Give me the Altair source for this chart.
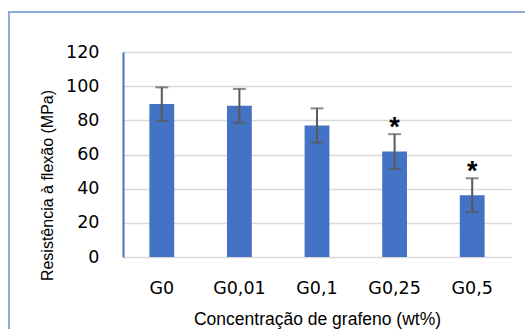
import altair as alt
import pandas as pd

# Flexural strength by graphene concentration (mean ± standard deviation)
groups = ["G0", "G0,01", "G0,1", "G0,25", "G0,5"]
strength = [89.5, 88.5, 77.0, 61.7, 36.2]
std_dev = [9.8, 9.9, 10.0, 10.2, 9.9]
significance = ["", "", "", "*", "*"]
y_ticks = [0, 20, 40, 60, 80, 100, 120]

df = pd.DataFrame({
    "grupo": groups,
    "media": strength,
    "dp": std_dev,
    "sig": significance,
})
df["inf"] = df["media"] - df["dp"]
df["sup"] = df["media"] + df["dp"]

BAR = "#4472C4"
ERR = "#595959"

x_axis = alt.Axis(
    title="Concentração de grafeno (wt%)",
    labelAngle=0,
    labelPadding=22,
    labelBaseline="top",
    titleY=67,
    titleBaseline="alphabetic",
)
x_scale = alt.Scale(paddingInner=0.68, paddingOuter=0.34)
y_axis = alt.Axis(
    title="Resistência à flexão (MPa)",
    values=y_ticks,
    labelOverlap=False,
    titleX=-71,
    titleY=133,
    titleBaseline="alphabetic",
    titleAlign="center",
    titleAngle=270,
)
y_scale = alt.Scale(domain=[0, 120], nice=False)


def xpos():
    return alt.X("grupo:N", sort=groups, scale=x_scale, axis=x_axis)


def ypos(field):
    return alt.Y(field, type="quantitative", scale=y_scale, axis=y_axis)


base = alt.Chart(df)

# chart frame
frame = alt.Chart(pd.DataFrame({"k": [0]})).mark_rect(
    fill="transparent", stroke="#8FAADC", strokeWidth=2
).encode(
    x=alt.value(-114), x2=alt.value(600), y=alt.value(-40), y2=alt.value(400)
)

bars = base.mark_bar(color=BAR).encode(x=xpos(), y=ypos("media"))

whiskers = base.mark_rule(color=ERR, strokeWidth=2).encode(
    x=xpos(), y=ypos("inf"), y2="sup:Q"
)

caps_top = base.mark_tick(color=ERR, size=13, thickness=2).encode(
    x=xpos(), y=ypos("sup")
)
caps_bottom = base.mark_tick(color=ERR, size=13, thickness=2).encode(
    x=xpos(), y=ypos("inf")
)

stars = base.mark_text(
    font="Liberation Sans", fontSize=27, fontWeight="bold", color="#000000",
    baseline="alphabetic", dy=2
).encode(x=xpos(), y=ypos("sup"), text="sig:N")

chart = (
    alt.layer(frame, bars, whiskers, caps_top, caps_bottom, stars)
    .properties(
        width=388,
        height=205,
        autosize=alt.AutoSizeParams(type="none"),
        padding={"left": 123, "top": 52, "right": 14, "bottom": 72},
        background="white",
    )
    .configure_view(stroke=None)
    .configure_axis(
        labelFont="DejaVu Sans",
        labelFontSize=17.5,
        labelColor="#000000",
        titleFont="Liberation Sans",
        titleFontWeight="normal",
        titleColor="#000000",
        ticks=False,
        grid=False,
    )
    .configure_axisY(
        grid=True,
        gridColor="#D9D9D9",
        gridWidth=1.5,
        domainColor=BAR,
        domainWidth=2,
        labelPadding=24,
        labelOverlap=False,
        titleFontSize=16,
    )
    .configure_axisX(
        domain=False,
        titleFontSize=17.5,
    )
)

chart.save("out.html", embed_options={"renderer": "svg", "actions": False})
